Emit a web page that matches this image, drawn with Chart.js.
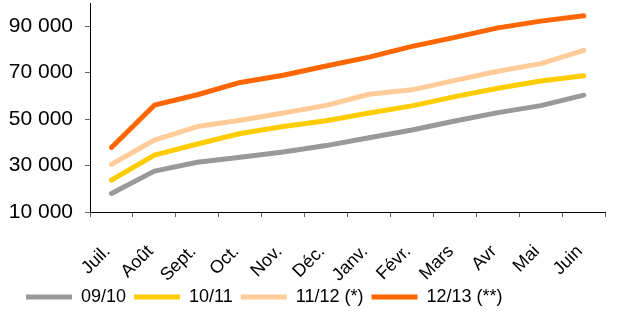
<!DOCTYPE html>
<html>
<head>
<meta charset="utf-8">
<script src="https://cdn.jsdelivr.net/npm/chart.js@4"></script>
<style>
  body { margin: 0; background: #fff; }
</style>
</head>
<body>
<canvas id="chart" width="623" height="311"></canvas>
<script>
// Categories and series
const months = ["Juil.", "Août", "Sept.", "Oct.", "Nov.", "Déc.", "Janv.", "Févr.", "Mars", "Avr", "Mai", "Juin"];
const yTicks = [10000, 30000, 50000, 70000, 90000];

const s0910 = [18000, 27600, 31400, 33600, 35800, 38600, 42000, 45300, 49200, 52800, 55800, 60300];
const s1011 = [23700, 34500, 39300, 43800, 46800, 49300, 52600, 55700, 59700, 63300, 66400, 68700];
const s1112 = [30500, 41000, 46800, 49500, 52600, 55900, 60700, 62600, 66700, 70600, 73900, 79600];
const s1213 = [37800, 56000, 60500, 65800, 68900, 72900, 76700, 81300, 85200, 89300, 92200, 94500];

const seriesLabels = ["09/10", "10/11", "11/12 (*)", "12/13 (**)"];
const seriesColors = ["#999999", "#FFCC00", "#FFCC99", "#FF6600"];

function makeSet(i, data) {
    return {
        label: seriesLabels[i],
        data: data,
        borderColor: seriesColors[i],
        backgroundColor: seriesColors[i],
        borderWidth: 5,
        borderCapStyle: "round",
        borderJoinStyle: "round",
        pointRadius: 0,
        tension: 0,
        fill: false
    };
}

// thousands with a space, like "90 000"
function fmt(v) {
    return String(v).replace(/\B(?=(\d{3})+(?!\d))/g, " ");
}

const fontFamily = "'Liberation Sans', Arial, sans-serif";

// nudge the legend: a bit right of the canvas edge, a bit up
const legendShift = {
    id: "legendShift",
    afterLayout(chart) {
        chart.legend.left += 18;
        chart.legend.top -= 3;
    }
};

new Chart(document.getElementById("chart").getContext("2d"), {
    type: "line",
    data: {
        labels: months,
        datasets: [makeSet(0, s0910), makeSet(1, s1011), makeSet(2, s1112), makeSet(3, s1213)]
    },
    options: {
        responsive: false,
        animation: false,
        layout: { padding: { left: 0, right: -3, top: 3, bottom: -8 } },
        plugins: {
            tooltip: { enabled: false },
            legend: {
                position: "bottom",
                align: "start",
                labels: {
                    usePointStyle: true,
                    pointStyle: "line",
                    pointStyleWidth: 46,
                    padding: 8,
                    color: "#000",
                    font: { family: fontFamily, size: 18, lineHeight: 1 }
                }
            }
        },
        scales: {
            x: {
                offset: true,
                grid: { offset: true, drawOnChartArea: false, tickLength: 5, color: "#666" },
                border: { color: "#000", width: 1 },
                ticks: {
                    autoSkip: false,
                    maxRotation: 45,
                    minRotation: 45,
                    padding: 24,
                    labelOffset: -4,
                    color: "#000",
                    font: { family: fontFamily, size: 18 }
                },
                afterFit: (scale) => { scale.height = 71; }
            },
            y: {
                min: 10000,
                max: 100000,
                grid: { drawOnChartArea: false, tickLength: 5, color: "#666" },
                border: { color: "#000", width: 1 },
                ticks: {
                    padding: 12,
                    color: "#000",
                    font: { family: fontFamily, size: 21 },
                    callback: (v) => fmt(v)
                },
                afterBuildTicks: (scale) => { scale.ticks = yTicks.map((v) => ({ value: v })); },
                afterFit: (scale) => {
                    scale.width = 90;
                    scale.paddingTop = 0;
                    scale.paddingBottom = 0;
                }
            }
        }
    },
    plugins: [legendShift]
});
</script>
</body>
</html>
